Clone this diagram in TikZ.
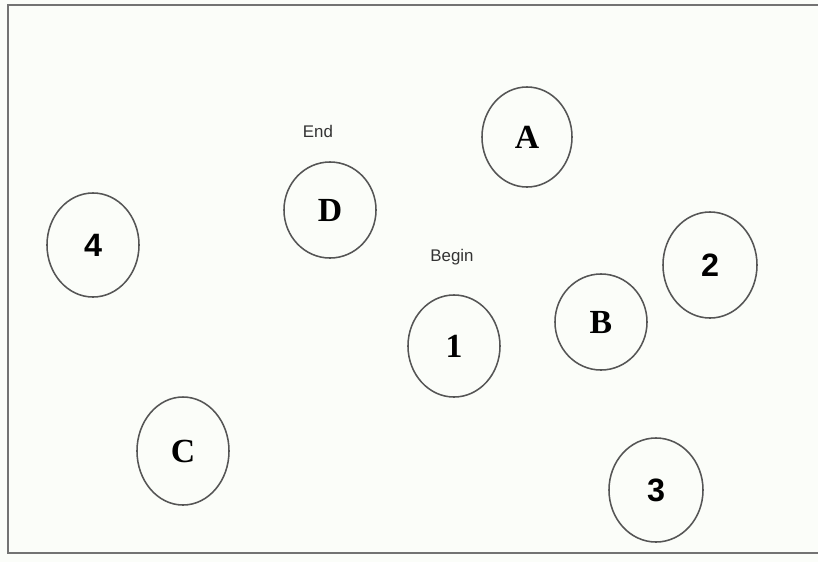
\documentclass[tikz,border=0pt]{standalone}
\usepackage{fontspec}
\setmainfont{Liberation Serif}
\setsansfont{Liberation Sans}
\usepackage{tikz}
\usetikzlibrary{positioning, shapes.geometric}
\definecolor{scanline}{HTML}{555555}
\definecolor{paper}{HTML}{FBFDF9}
\tikzset{
    place/.style={draw=scanline, ellipse, line width=1.1pt, inner sep=0pt, font=\fontsize{24}{26}\selectfont\bfseries},
    digit/.style={place, font=\fontsize{23}{26}\sffamily\bfseries},
    tag/.style={font=\fontsize{12}{14}\sffamily, text=black!80}
}

\begin{document}
\begin{tikzpicture}[x=0.025cm, y=-0.025cm]

% Frame
\fill[paper] (0,0) rectangle (818,562);
\useasboundingbox (0,0) rectangle (818,562);
\draw[line width=1.6pt, draw=black!55] (818,5) -- (8,5) -- (8,553) -- (818,553);

% Nodes
\node[place, minimum width=2.25cm, minimum height=2.5cm] (A) at (527,137) {A};
\node[place, minimum width=2.3cm, minimum height=2.4cm] (D) at (330,210) {D};
\node[digit, minimum width=2.3cm, minimum height=2.6cm] (4) at (93,245) {4};
\node[digit, minimum width=2.35cm, minimum height=2.65cm] (2) at (710,265) {2};
\node[place, minimum width=2.3cm, minimum height=2.4cm] (B) at (601,322) {B};
\node[place, minimum width=2.3cm, minimum height=2.55cm] (1) at (454,346) {1};
\node[place, minimum width=2.3cm, minimum height=2.7cm] (C) at (183,451) {C};
\node[digit, minimum width=2.35cm, minimum height=2.6cm] (3) at (656,490) {3};

% Labels
\node[tag] (end) at (318,131) {End};
\node[tag] (begin) at (452,257) {Begin};

\end{tikzpicture}
\end{document}
